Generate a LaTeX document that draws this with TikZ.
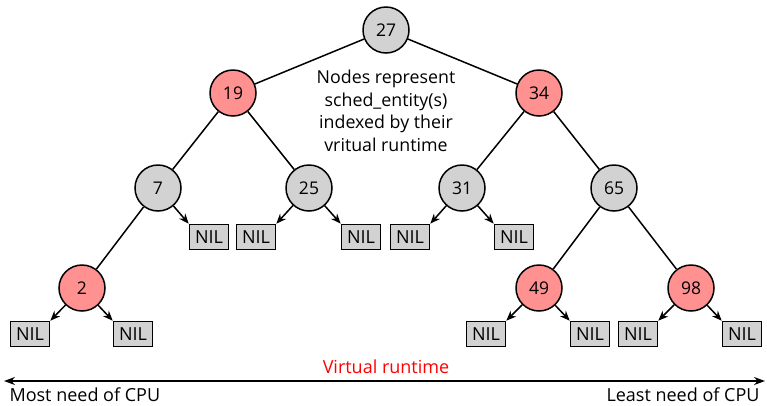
\documentclass[tikz,border=0pt]{standalone}
\usepackage{fontspec}
\setmainfont{Open Sans}
\usetikzlibrary{arrows.meta}
\definecolor{nodegray}{RGB}{210,210,210}
\definecolor{nodered}{RGB}{255,145,145}
\tikzset{
  tn/.style={circle,draw=black,line width=1.5pt,minimum size=46pt,inner sep=0pt,font=\fontsize{17.5}{20}\selectfont},
  gn/.style={tn,fill=nodegray},
  rn/.style={tn,fill=nodered},
  nil/.style={rectangle,draw=black,line width=1.6pt,fill=nodegray,minimum width=39pt,minimum height=25pt,inner sep=0pt,font=\fontsize{18}{20}\selectfont},
  edge/.style={line width=1.5pt},
  nilarrow/.style={line width=1.5pt,-{Stealth[length=10pt,width=8pt]}},
  lbl/.style={font=\fontsize{18}{23}\selectfont}
}
\begin{document}
\begin{tikzpicture}[x=1pt,y=-1pt]
\useasboundingbox (0,0) rectangle (767,405);
% tree nodes
\node[gn] (n27) at (386,30) {27};
\node[rn] (n19) at (233,93) {19};
\node[rn] (n34) at (539,93) {34};
\node[gn] (n7) at (158,188) {7};
\node[gn] (n25) at (309,188) {25};
\node[gn] (n31) at (462,188) {31};
\node[gn] (n65) at (614,188) {65};
\node[rn] (n2) at (82,288) {2};
\node[rn] (n49) at (539,288) {49};
\node[rn] (n98) at (691,288) {98};
% NIL leaves
\node[nil] (a) at (209,237) {NIL};
\node[nil] (b) at (256,237) {NIL};
\node[nil] (c) at (361,237) {NIL};
\node[nil] (d) at (410,237) {NIL};
\node[nil] (e) at (514,237) {NIL};
\node[nil] (f) at (30,334) {NIL};
\node[nil] (g) at (133,334) {NIL};
\node[nil] (h) at (486,334) {NIL};
\node[nil] (i) at (590,334) {NIL};
\node[nil] (j) at (638,334) {NIL};
\node[nil] (k) at (742,334) {NIL};
% edges
\draw[edge] (n27) -- (n19);
\draw[edge] (n27) -- (n34);
\draw[edge] (n19) -- (n7);
\draw[edge] (n19) -- (n25);
\draw[edge] (n34) -- (n31);
\draw[edge] (n34) -- (n65);
\draw[edge] (n7) -- (n2);
\draw[edge] (n65) -- (n49);
\draw[edge] (n65) -- (n98);
% arrows to NIL
\draw[nilarrow] (n7) -- (a.north west);
\draw[nilarrow] (n25) -- (b.north east);
\draw[nilarrow] (n25) -- (c.north west);
\draw[nilarrow] (n31) -- (d.north east);
\draw[nilarrow] (n31) -- (e.north west);
\draw[nilarrow] (n2) -- (f.north east);
\draw[nilarrow] (n2) -- (g.north west);
\draw[nilarrow] (n49) -- (h.north east);
\draw[nilarrow] (n49) -- (i.north west);
\draw[nilarrow] (n98) -- (j.north east);
\draw[nilarrow] (n98) -- (k.north west);
% caption
\node[lbl,align=center,font=\fontsize{17.8}{22.5}\selectfont] (cap) at (386,111) {Nodes represent\\sched\_entity(s)\\indexed by their\\vritual runtime};
% axis
\coordinate (axl) at (4,381);
\coordinate (axr) at (765,381);
\draw[line width=1.5pt,{Stealth[length=11pt,width=8pt]}-{Stealth[length=11pt,width=8pt]}] (axl) -- (axr);
\node[lbl,text=red] (vr) at (386,367) {Virtual runtime};
\node[lbl,anchor=west] (most) at (6,395) {Most need of CPU};
\node[lbl,anchor=east] (least) at (763,395) {Least need of CPU};
\end{tikzpicture}
\end{document}
